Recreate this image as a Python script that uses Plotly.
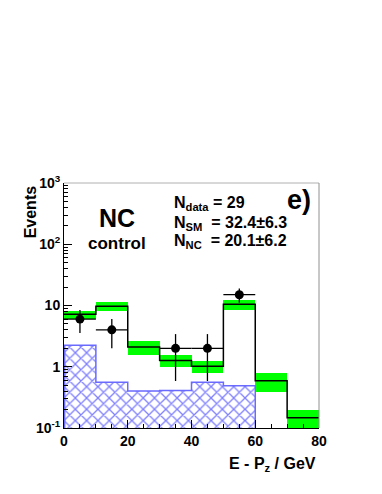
import numpy as np
import plotly.graph_objects as go

# ---- data ----
bin_edges = [0, 10, 20, 30, 40, 50, 60, 70, 80]
bin_centers = [5, 15, 25, 35, 45, 55, 65, 75]
sm_total = [7.2, 9.7, 2.1, 1.26, 1.02, 10.5, 0.59, 0.147]
sm_low = [6.1, 8.1, 1.57, 0.99, 0.79, 8.3, 0.39, 0.1]
sm_high = [8.1, 11.4, 2.6, 1.54, 1.26, 12.4, 0.79, 0.20]
nc_signal = [2.24, 0.56, 0.40, 0.41, 0.56, 0.49, 0.0, 0.0]
data_counts = [6, 4, 0, 2, 2, 15, 0, 0]
ytick_vals = [0.1, 1, 10, 100, 1000]
ytick_text = ["10<sup>-1</sup>", "1", "10", "10<sup>2</sup>", "10<sup>3</sup>"]

FONT = "Liberation Sans"
fig = go.Figure()

# SM uncertainty band
fig.add_trace(go.Bar(
    x=bin_centers, base=sm_low,
    y=[h - l for h, l in zip(sm_high, sm_low)],
    width=10, marker=dict(color="#00ff00", line=dict(width=0)),
    showlegend=False, hoverinfo="skip"))

# NC hatched histogram
fig.add_trace(go.Bar(
    x=bin_centers, y=[v if v > 0 else None for v in nc_signal], width=10,
    marker=dict(color="white", line=dict(width=0),
                pattern=dict(shape="x", fgcolor="#0000ff", bgcolor="white",
                             size=8, solidity=0.3)),
    showlegend=False, hoverinfo="skip"))

# NC outline
fig.add_trace(go.Scatter(
    x=bin_edges[:7] + [60], y=[nc_signal[0]] + nc_signal[1:6] + [nc_signal[5], 0.1],
    mode="lines", line=dict(color="#6a6aff", width=1.5, shape="hv"),
    showlegend=False, hoverinfo="skip"))
fig.add_trace(go.Scatter(
    x=[0.2, 0.2], y=[0.1, nc_signal[0]],
    mode="lines", line=dict(color="#6a6aff", width=1.5),
    showlegend=False, hoverinfo="skip"))

# SM total step line
fig.add_trace(go.Scatter(
    x=bin_edges, y=sm_total + [sm_total[-1]],
    mode="lines", line=dict(color="black", width=1.5, shape="hv"),
    showlegend=False, hoverinfo="skip"))

# data points
dx = [c for c, n in zip(bin_centers, data_counts) if n > 0]
dy = [n for n in data_counts if n > 0]
fig.add_trace(go.Scatter(
    x=dx, y=dy, mode="markers",
    marker=dict(color="black", size=9),
    error_y=dict(type="data", array=[np.sqrt(n) for n in dy], color="black",
                 thickness=1.3, width=0),
    error_x=dict(type="constant", value=5, color="black", thickness=1.3, width=0),
    showlegend=False, hoverinfo="skip"))

fig.update_layout(
    width=382, height=494,
    margin=dict(l=56, r=71, t=175, b=74),
    paper_bgcolor="white", plot_bgcolor="white",
    barmode="overlay", bargap=0,
    font=dict(family=FONT, size=13, color="black", weight="bold"),
    xaxis=dict(range=[0, 80], tickvals=[0, 20, 40, 60, 80],
               ticks="inside", ticklen=8, tickcolor="black",
               showline=True, linecolor="black", linewidth=1,
               showgrid=False, zeroline=False,
               tickfont=dict(size=14, family=FONT, weight="bold"),
               minor=dict(tickvals=list(range(0, 81, 5)), ticks="inside",
                          ticklen=4, tickcolor="black", showgrid=False)),
    yaxis=dict(type="log", range=[-1, 3], tickvals=ytick_vals, ticktext=ytick_text,
               ticks="inside", ticklen=8, tickcolor="black",
               showline=True, linecolor="black", linewidth=1,
               showgrid=False, zeroline=False,
               tickfont=dict(size=14, family=FONT, weight="bold"),
               minor=dict(tickvals=[m * 10 ** e for e in range(-1, 3) for m in range(2, 10)],
                          ticks="inside", ticklen=4, tickcolor="black", showgrid=False)),
    shapes=[
        dict(type="line", xref="paper", yref="paper", x0=0, x1=1, y0=1, y1=1,
             line=dict(color="#b0b0b0", width=1)),
        dict(type="line", xref="paper", yref="paper", x0=1, x1=1, y0=0, y1=1,
             line=dict(color="#909090", width=1)),
    ],
    annotations=[
        dict(text="Events", xref="paper", yref="paper", x=-0.13, y=1.0,
             xanchor="center", yanchor="top", textangle=-90, showarrow=False,
             font=dict(size=16, family=FONT, weight="bold")),
        dict(text="NC", xref="paper", yref="paper", x=0.207, y=0.858,
             xanchor="center", yanchor="middle", showarrow=False,
             font=dict(size=25, family=FONT, weight="bold")),
        dict(text="control", xref="paper", yref="paper", x=0.207, y=0.755,
             xanchor="center", yanchor="middle", showarrow=False,
             font=dict(size=17, family=FONT, weight="bold")),
        dict(text="N<sub>data</sub> = 29", xref="paper", yref="paper", x=0.424, y=0.918,
             xanchor="left", yanchor="middle", showarrow=False,
             font=dict(size=16, family=FONT, weight="bold")),
        dict(text="N<sub>SM</sub>  = 32.4\u00b16.3", xref="paper", yref="paper", x=0.424, y=0.836,
             xanchor="left", yanchor="middle", showarrow=False,
             font=dict(size=16, family=FONT, weight="bold")),
        dict(text="N<sub>NC</sub>  = 20.1\u00b16.2", xref="paper", yref="paper", x=0.424, y=0.76,
             xanchor="left", yanchor="middle", showarrow=False,
             font=dict(size=16, family=FONT, weight="bold")),
        dict(text="e)", xref="paper", yref="paper", x=0.975, y=0.93,
             xanchor="right", yanchor="middle", showarrow=False,
             font=dict(size=27, family=FONT, weight="bold")),
        dict(text="E - P<sub>z</sub> / GeV", xref="paper", yref="paper", x=0.995, y=-0.1,
             xanchor="right", yanchor="top", showarrow=False,
             font=dict(size=16, family=FONT, weight="bold")),
    ],
)

fig.write_html("out.html")
